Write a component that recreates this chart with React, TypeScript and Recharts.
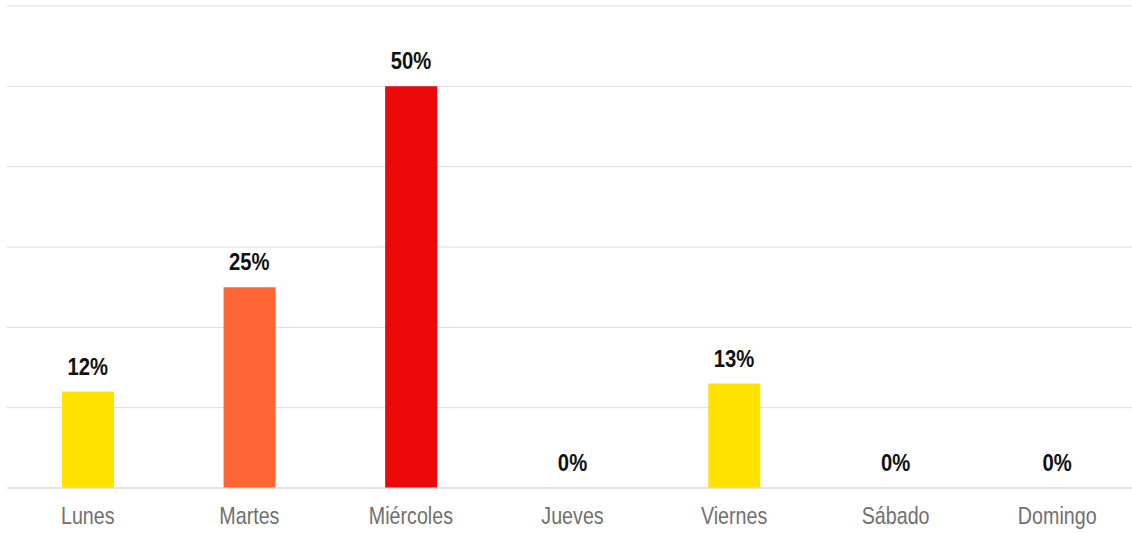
import { ComposedChart, Bar, Line, XAxis, YAxis, CartesianGrid, Cell, LabelList } from "recharts";

// ── Data ──────────────────────────────────────────────────────────────────────
const days = ["Lunes", "Martes", "Miércoles", "Jueves", "Viernes", "Sábado", "Domingo"];
const shares = [12, 25, 50, 0, 13, 0, 0];
const barColors = ["#FFE200", "#FF6633", "#EC0909", "#FFE200", "#FFE200", "#FFE200", "#FFE200"];
const yTicks = [0, 10, 20, 30, 40, 50, 60];

const chartData = days.map((day, i) => ({ day, value: shares[i] }));

const sans = "'Liberation Sans', Arial, sans-serif";

// ── Condensed axis tick ───────────────────────────────────────────────────────
function DayTick(props: any) {
  const { x, y, payload } = props;
  return (
    <text
      transform={`translate(${x},${y + 16}) scale(0.82,1)`}
      textAnchor="middle"
      fill="#707070"
      fontSize={24}
      fontFamily={sans}
    >
      {payload.value}
    </text>
  );
}

// ── Value label (drawn from an invisible line so 0% shows too) ───────────────
function ValueLabel(props: any) {
  const { x, y, value } = props;
  return (
    <text
      transform={`translate(${x},${y - 17}) scale(0.88,1)`}
      textAnchor="middle"
      fill="#111"
      fontSize={23}
      fontWeight={700}
      fontFamily={sans}
    >
      {`${value}%`}
    </text>
  );
}

export default function App() {
  return (
    <div
      style={{
        position: "fixed",
        left: 0,
        top: 0,
        width: 1132,
        height: 533,
        overflow: "hidden",
        background: "#fff",
      }}
    >
      <ComposedChart
        width={1138}
        height={533}
        data={chartData}
        margin={{ top: 6, right: 0, bottom: 0, left: 7 }}
        barSize={52}
      >
        <CartesianGrid vertical={false} stroke="#dcdcdc" />
        <YAxis hide domain={[0, 60]} ticks={yTicks} />
        <XAxis
          dataKey="day"
          height={45}
          axisLine={{ stroke: "#dcdcdc" }}
          tickLine={false}
          tickMargin={14}
          tick={<DayTick />}
          interval={0}
        />
        <Bar dataKey="value" isAnimationActive={false}>
          {chartData.map((_, i) => (
            <Cell key={i} fill={barColors[i]} />
          ))}
        </Bar>
        <Line
          dataKey="value"
          stroke="none"
          dot={false}
          activeDot={false}
          isAnimationActive={false}
        >
          <LabelList dataKey="value" content={<ValueLabel />} />
        </Line>
      </ComposedChart>
    </div>
  );
}
